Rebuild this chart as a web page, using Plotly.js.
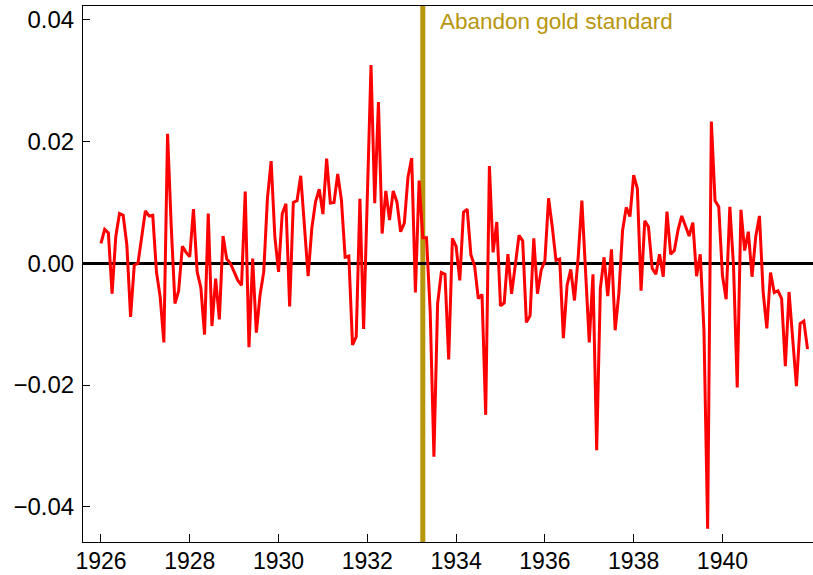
<!DOCTYPE html>
<html>
<head>
<meta charset="utf-8">
<script src="https://cdn.plot.ly/plotly-3.0.1.min.js"></script>
<style>html,body{margin:0;padding:0;background:#fff;}#chart{width:813px;height:575px;}</style>
</head>
<body>
<div id="chart"></div>
<script>
// Monthly series, Jan 1926 .. Dec 1941
const startYear = 1926;
const values = [
  0.0033, 0.0056, 0.0050, -0.0050, 0.0044, 0.0082, 0.0079, 0.0030, -0.0088, -0.0003, 0.0000, 0.0040,
  0.0086, 0.0078, 0.0079, -0.0014, -0.0055, -0.0130, 0.0213, 0.0060, -0.0066, -0.0045, 0.0028, 0.0018,
  0.0011, 0.0089, -0.0014, -0.0040, -0.0117, 0.0082, -0.0103, -0.0025, -0.0092, 0.0045, 0.0007, 0.0000,
  -0.0014, -0.0028, -0.0036, 0.0118, -0.0138, 0.0008, -0.0114, -0.0052, -0.0014, 0.0107, 0.0168, 0.0044,
  -0.0014, 0.0082, 0.0098, -0.0071, 0.0100, 0.0103, 0.0144, 0.0055, -0.0021, 0.0058, 0.0101, 0.0122,
  0.0081, 0.0172, 0.0099, 0.0100, 0.0147, 0.0104, 0.0010, 0.0012, -0.0134, -0.0121, 0.0106, -0.0108,
  0.0110, 0.0326, 0.0099, 0.0265, 0.0049, 0.0119, 0.0071, 0.0119, 0.0101, 0.0052, 0.0066, 0.0142,
  0.0173, -0.0048, 0.0136, 0.0042, 0.0042, -0.0080, -0.0318, -0.0066, -0.0015, -0.0018, -0.0158, 0.0041,
  0.0028, -0.0028, 0.0084, 0.0089, 0.0014, -0.0004, -0.0058, -0.0051, -0.0249, 0.0160, 0.0018, 0.0068,
  -0.0070, -0.0065, 0.0015, -0.0050, -0.0003, 0.0046, 0.0037, -0.0097, -0.0086, 0.0041, -0.0050, -0.0011,
  0.0004, 0.0107, 0.0060, 0.0005, 0.0007, -0.0123, -0.0036, -0.0010, -0.0061, 0.0010, 0.0103, -0.0015,
  -0.0130, -0.0018, -0.0307, -0.0041, 0.0010, -0.0054, 0.0023, -0.0110, -0.0049, 0.0054, 0.0092, 0.0077,
  0.0145, 0.0123, -0.0045, 0.0070, 0.0060, -0.0008, -0.0018, 0.0015, -0.0022, 0.0085, 0.0015, 0.0021,
  0.0055, 0.0078, 0.0063, 0.0045, 0.0067, -0.0021, 0.0015, -0.0110, -0.0436, 0.0233, 0.0103, 0.0093,
  -0.0020, -0.0059, 0.0093, -0.0005, -0.0204, 0.0088, 0.0021, 0.0052, -0.0022, 0.0044, 0.0078, -0.0047,
  -0.0107, -0.0015, -0.0048, -0.0045, -0.0058, -0.0169, -0.0047, -0.0126, -0.0202, -0.0099, -0.0095, -0.0141
];
const eventYear = 1933.25;
const eventLabel = "Abandon gold standard";
const xTickVals = [1926, 1928, 1930, 1932, 1934, 1936, 1938, 1940];
const yTickVals = [-0.04, -0.02, 0, 0.02, 0.04];

const times = values.map((v, i) => startYear + i / 12);
const gold = "#B8960C";
const font = {family: "Liberation Sans, Arial, sans-serif", size: 24, color: "#000"};
const xFont = {family: "Liberation Sans, Arial, sans-serif", size: 23, color: "#000"};

const trace = {
  x: times, y: values, type: "scatter", mode: "lines",
  line: {color: "#FF0000", width: 3}, hoverinfo: "skip"
};

const layout = {
  width: 813, height: 575,
  margin: {l: 83, r: 0, t: 6, b: 33, pad: 0},
  paper_bgcolor: "#fff", plot_bgcolor: "#fff",
  showlegend: false,
  font: font,
  xaxis: {
    range: [1925.595, 1942.04], tickvals: xTickVals, ticktext: xTickVals.map(String),
    ticks: "inside", ticklen: 8, tickwidth: 1, tickcolor: "#000",
    showline: true, linecolor: "#000", linewidth: 1, mirror: true,
    showgrid: false, zeroline: false, tickfont: xFont, ticklabelstandoff: -2
  },
  yaxis: {
    range: [-0.0458, 0.0423], tickvals: yTickVals, tickformat: ".2f",
    ticks: "inside", ticklen: 7, tickwidth: 1, tickcolor: "#000",
    showline: true, linecolor: "#000", linewidth: 1, mirror: true,
    showgrid: false, zeroline: true, zerolinecolor: "#000", zerolinewidth: 3,
    tickfont: font, ticklabelstandoff: 3
  },
  shapes: [{
    type: "line", xref: "x", yref: "paper", x0: eventYear, x1: eventYear, y0: 0, y1: 1,
    line: {color: gold, width: 5}, layer: "below"
  }],
  annotations: [{
    x: eventYear, xref: "x", y: 0.0398, yref: "y", text: eventLabel,
    xanchor: "left", yanchor: "middle", xshift: 15, showarrow: false,
    font: {family: "Liberation Sans, Arial, sans-serif", size: 22.5, color: gold}
  }]
};

Plotly.newPlot("chart", [trace], layout, {staticPlot: true, displayModeBar: false});
</script>
</body>
</html>
